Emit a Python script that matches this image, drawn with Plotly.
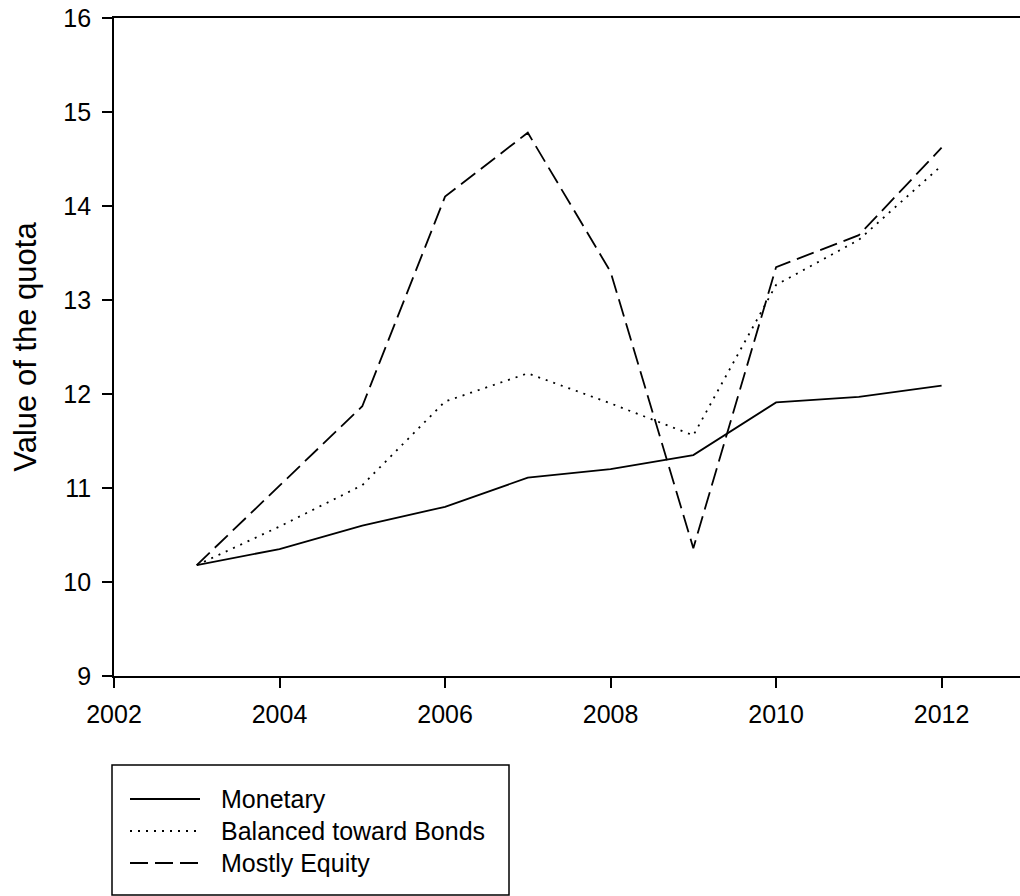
import plotly.graph_objects as go

years = [2003, 2004, 2005, 2006, 2007, 2008, 2009, 2010, 2011, 2012]
monetary = [10.18, 10.35, 10.60, 10.80, 11.11, 11.20, 11.35, 11.91, 11.97, 12.09]
balanced = [10.18, 10.59, 11.03, 11.92, 12.22, 11.90, 11.56, 13.16, 13.64, 14.43]
equity = [10.18, 11.03, 11.87, 14.10, 14.78, 13.30, 10.36, 13.35, 13.69, 14.62]

series_names = ["Monetary", "Balanced toward Bonds", "Mostly Equity"]
series_values = [monetary, balanced, equity]
dash_styles = ["solid", "2px,6px", "18px,7px"]

x_ticks = [2002, 2004, 2006, 2008, 2010, 2012]
y_ticks = [9, 10, 11, 12, 13, 14, 15, 16]

FONT = "Liberation Sans, Arial, sans-serif"
W, H = 1020, 896
ML, MR, MT, MB = 114, 0, 18, 220
PW = W - ML - MR
PH = H - MT - MB
PX_PER_YEAR = 82.76

fig = go.Figure()
for name, vals, dash in zip(series_names, series_values, dash_styles):
    fig.add_trace(go.Scatter(
        x=years, y=vals, mode="lines", name=name,
        line=dict(color="black", width=1.8, dash=dash),
        showlegend=False,
    ))

def px_to_paper(px, py):
    return (px - ML) / PW, (H - MB - py) / PH

# manual legend box
x0, y0 = px_to_paper(112, 765)
x1, y1 = px_to_paper(509, 895)
fig.add_shape(type="rect", xref="paper", yref="paper", x0=x0, y0=y0, x1=x1, y1=y1,
              line=dict(color="black", width=1.5), fillcolor="white", layer="above")
row_y = [799, 831, 863]
for name, dash, ry in zip(series_names, dash_styles, row_y):
    lx0, ly = px_to_paper(130, ry)
    lx1, _ = px_to_paper(200, ry)
    fig.add_shape(type="line", xref="paper", yref="paper", x0=lx0, x1=lx1, y0=ly, y1=ly,
                  line=dict(color="black", width=1.8, dash=dash), layer="above")
    tx, _ = px_to_paper(219, ry)
    fig.add_annotation(xref="paper", yref="paper", x=tx, y=ly, text=name, showarrow=False,
                       xanchor="left", yanchor="middle",
                       font=dict(family=FONT, size=25, color="black"))

fig.update_layout(
    width=W, height=H,
    margin=dict(l=ML, r=MR, t=MT, b=MB, pad=0),
    paper_bgcolor="white", plot_bgcolor="white",
    font=dict(family=FONT, size=25, color="black"),
    showlegend=False,
)
fig.update_xaxes(
    range=[2002, 2002 + PW / PX_PER_YEAR],
    tickvals=x_ticks, ticktext=[str(v) for v in x_ticks],
    ticks="outside", ticklen=10, tickwidth=1.5, tickcolor="black",
    showline=True, linecolor="black", linewidth=1.8, mirror=True,
    showgrid=False, zeroline=False, ticklabelstandoff=5,
    tickfont=dict(family=FONT, size=25, color="black"),
)
fig.update_yaxes(
    range=[9, 16],
    tickvals=y_ticks, ticktext=[str(v) for v in y_ticks],
    ticks="outside", ticklen=10, tickwidth=1.5, tickcolor="black",
    showline=True, linecolor="black", linewidth=1.8,
    showgrid=False, zeroline=False, ticklabelstandoff=6,
    tickfont=dict(family=FONT, size=25, color="black"),
    title=dict(text="Value of the quota", font=dict(family=FONT, size=31, color="black"), standoff=17),
)

fig.write_html(
    "out.html",
    config={"displayModeBar": False},
    post_script="document.body.style.margin='0px';document.body.style.overflow='hidden';",
)
